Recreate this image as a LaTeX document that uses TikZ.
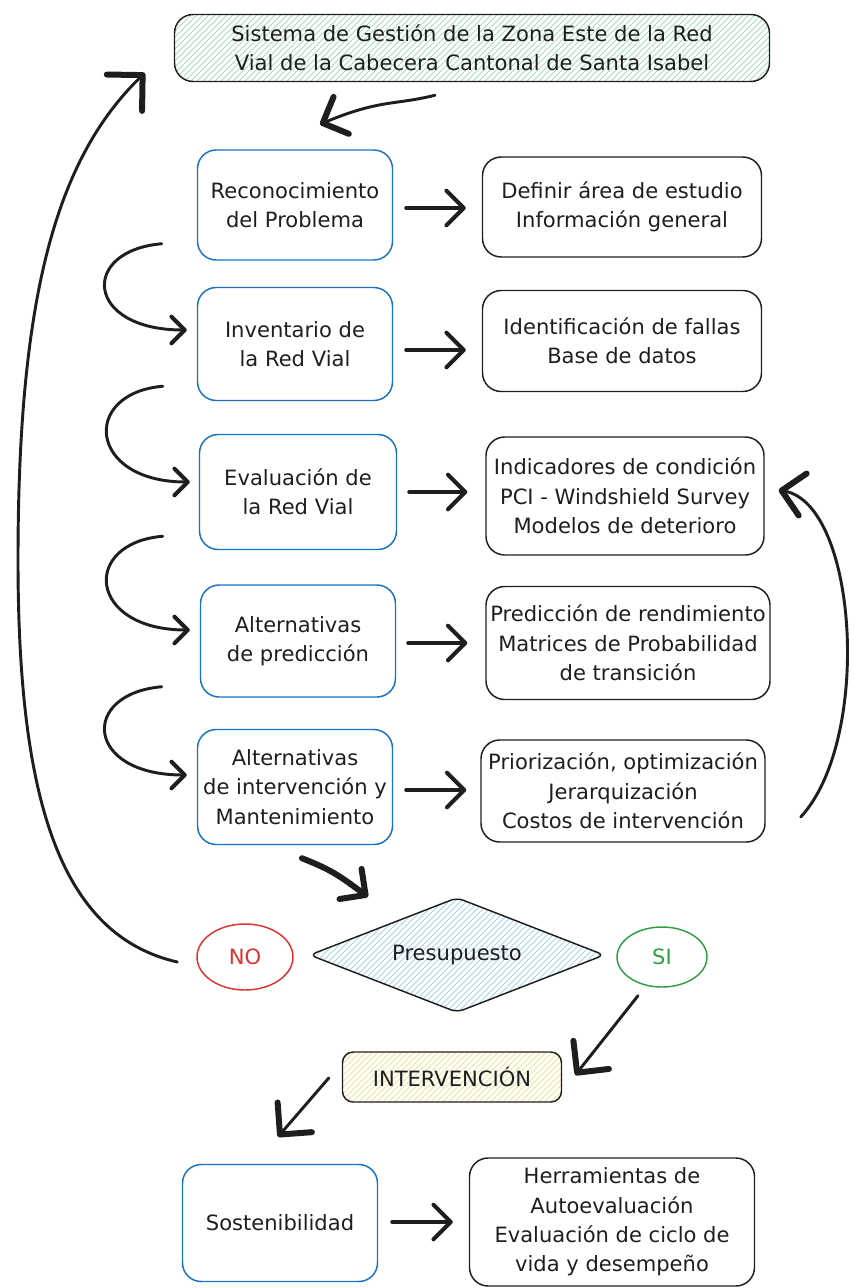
\documentclass[tikz,border=0pt]{standalone}
\usepackage{fontspec}
\setmainfont{DejaVu Sans}
\usetikzlibrary{arrows.meta,shapes.geometric,calc}
\definecolor{azul}{HTML}{1971C2}
\definecolor{rojo}{HTML}{E03131}
\definecolor{verde}{HTML}{2F9E44}
\definecolor{tinta}{HTML}{1E1E1E}
\definecolor{hverde}{HTML}{A6E0B0}
\definecolor{hazul}{HTML}{A5D3F7}
\definecolor{hamarillo}{HTML}{F7E19A}

\begin{document}
\begin{tikzpicture}[x=0.75pt, y=-0.75pt, line join=round,
	every node/.style={font=\fontsize{15.8}{22}\selectfont, text=tinta, align=center, inner sep=0pt},
	caja/.style={line width=1.1pt, rounded corners=14pt},
	izq/.style 2 args={caja, draw=azul, minimum width=#1*0.75pt, minimum height=#2*0.75pt},
	der/.style 2 args={caja, draw=tinta, minimum width=#1*0.75pt, minimum height=#2*0.75pt},
	rayado/.style={path picture={
		\foreach \k in {-320,-314,...,620}
			\draw[#1, line width=0.6pt] ($(path picture bounding box.south west)+(\k,0)$) -- +(320,-320);}},
	elipse/.style={ellipse, line width=1.1pt, minimum width=#1},
	flecha/.style={draw=tinta, line width=3pt, line cap=round, -{Straight Barb[length=13pt, width=26pt, round]}},
	curva/.style={draw=tinta, line width=2.2pt, line cap=round, -{Straight Barb[length=10pt, width=20pt, round, line width=3pt]}},
	fina/.style={draw=tinta, line width=2.2pt, line cap=round, -{Straight Barb[length=#1, width=2*#1, round, line width=4.5pt]}}]
	\useasboundingbox (0,0) rectangle (853,1288);
	\node[caja, draw=tinta, rayado=hverde, minimum width=595*0.75pt, minimum height=67*0.75pt] (sis) at (472,48) {Sistema de Gestión de la Zona Este de la Red\\Vial de la Cabecera Cantonal de Santa Isabel};
	\node[izq={195}{110}] (rec) at (295,205) {Reconocimiento\\del Problema};
	\node[izq={195}{113}] (inv) at (295,344) {Inventario de\\la Red Vial};
	\node[izq={197}{115}] (eva) at (298,492) {Evaluación de\\la Red Vial};
	\node[izq={195}{112}] (alp) at (298,641) {Alternativas\\de predicción};
	\node[izq={195}{115}] (ain) at (295,787) {Alternativas\\de intervención y\\Mantenimiento};
	\node[der={279}{100}] (def) at (622,207) {Definir área de estudio\\Información general};
	\node[der={279}{101}] (ide) at (622,341) {Identificación de fallas\\Base de datos};
	\node[der={278}{118}] (ind) at (625,496) {Indicadores de condición\\PCI - Windshield Survey\\Modelos de deterioro};
	\node[der={284}{113}] (mat) at (628,643) {Predicción de rendimiento\\Matrices de Probabilidad\\de transición};
	\node[der={284}{102}] (pri) at (623,791) {Priorización, optimización\\Jerarquización\\Costos de intervención};
	\node[diamond, aspect=2.6, draw=tinta, line width=1.1pt, rounded corners=5pt, rayado=hazul, minimum width=295*0.75pt, minimum height=115*0.75pt] (pres) at (457,955) {Presupuesto};
	\node[elipse=96*0.75pt, draw=rojo, text=rojo, minimum height=66*0.75pt] (no) at (245,957) {NO};
	\node[elipse=90*0.75pt, draw=verde, text=verde, minimum height=60*0.75pt] (si) at (662,957) {SI};
	\node[caja, draw=tinta, rounded corners=8pt, rayado=hamarillo, minimum width=219*0.75pt, minimum height=50*0.75pt] (int) at (452,1077) {INTERVENCIÓN};
	\node[izq={195}{117}] (sos) at (280,1223) {Sostenibilidad};
	\node[der={285}{128}] (her) at (612,1222) {Herramientas de\\Autoevaluación\\Evaluación de ciclo de\\vida y desempeño};

	\draw[fina=15pt] ($(sis.south)+(-37,13)$) .. controls +(-40,10) and +(60,-25) .. ($(rec.north)+(25,-25)$);
	\draw[flecha] ($(rec.east)+(13,3)$) -- ($(def.west)+(-16,1)$);
	\draw[flecha] ($(inv.east)+(13,6)$) -- ($(ide.west)+(-16,9)$);
	\draw[flecha] ($(eva.east)+(12,0)$) -- ($(ind.west)+(-18,-4)$);
	\draw[flecha] ($(alp.east)+(12,2)$) -- ($(mat.west)+(-18,0)$);
	\draw[flecha] ($(ain.east)+(13,3)$) -- ($(pri.west)+(-14,-1)$);
	\draw[flecha] ($(sos.east)+(14,-1)$) -- ($(her.west)+(-16,0)$);
	\draw[curva] ($(rec.south west)+(-35,-17)$) .. controls +(-82,7) and +(-102,0) .. ($(inv.west)+(-10,-14)$);
	\draw[curva] ($(inv.south west)+(-34,-15)$) .. controls +(-82,7) and +(-102,0) .. ($(eva.west)+(-9,-10)$);
	\draw[curva] ($(eva.south west)+(-36,-14)$) .. controls +(-82,7) and +(-102,0) .. ($(alp.west)+(-10,-11)$);
	\draw[curva] ($(alp.south west)+(-38,-11)$) .. controls +(-82,7) and +(-102,0) .. ($(ain.west)+(-10,-12)$);
	\draw[fina=19pt] ($(no.west)+(-19,5)$) .. controls (60,935) and (18,800) .. (18,560) .. controls (18,300) and (55,160) .. ($(sis.west)+(-29,25)$);
	\draw[fina=16pt] ($(pri.east)+(35,26)$) .. controls (872,740) and (858,505) .. ($(ind.east)+(14,-6)$);
	\draw[draw=tinta, line width=4.5pt, line cap=round, -{Straight Barb[length=14pt, width=28pt, round]}] ($(ain.south)+(7,13)$) .. controls +(30,12) and +(-30,-22) .. ($(pres.north)+(-89,0)$);
	\draw[fina=17pt] ($(si.south)+(-24,8)$) -- ($(int.east)+(13,-2)$);
	\draw[fina=17pt] ($(int.west)+(-13,1)$) -- ($(sos.north)+(-2,-27)$);
\end{tikzpicture}
\end{document}
